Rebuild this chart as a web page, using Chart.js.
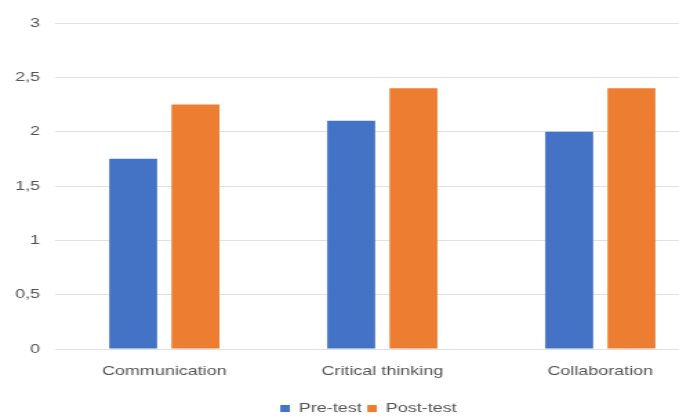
<!DOCTYPE html>
<html>
<head>
<meta charset="utf-8">
<script src="https://cdn.jsdelivr.net/npm/chart.js@4/dist/chart.umd.min.js"></script>
<style>
  html, body { margin: 0; padding: 0; background: #fff; overflow: hidden; }
  /* the reference image is stretched sideways, so the chart is drawn narrow and widened */
  #wrap { width: 520px; height: 417px; transform: scaleX(1.38); transform-origin: 0 0; }
</style>
</head>
<body>
<div id="wrap"><canvas id="chart" width="520" height="417"></canvas></div>
<script>
const categories = ["Communication", "Critical thinking", "Collaboration"];
const preTest = [1.75, 2.1, 2.0];
const postTest = [2.25, 2.4, 2.4];
const yTicks = [0, 0.5, 1, 1.5, 2, 2.5, 3];

const font = { family: "'Liberation Sans', Arial, sans-serif", size: 13 };
const textColor = "#555555";

//nudge the legend a little right and down, like in the picture
const legendNudge = {
  id: "legendNudge",
  afterLayout(chart) {
    const lg = chart.legend;
    lg.left += 10;
    lg.right += 10;
    lg.top += 8;
    lg.bottom += 8;
  },
};

let myChart = new Chart(document.getElementById("chart"), {
  type: "bar",
  plugins: [legendNudge],
  data: {
    labels: categories,
    datasets: [
      { label: "Pre-test", data: preTest, backgroundColor: "#4472C4" },
      { label: "Post-test", data: postTest, backgroundColor: "#ED7D31" },
    ],
  },
  options: {
    responsive: false,
    animation: false,
    categoryPercentage: 0.571,
    barPercentage: 0.77,
    layout: { padding: { top: 23, left: 0, right: 6, bottom: 0 } },
    plugins: {
      tooltip: { enabled: false },
      legend: {
        position: "bottom",
        labels: { boxWidth: 7, boxHeight: 7, padding: 4, color: textColor, font: font },
      },
    },
    scales: {
      x: {
        grid: { display: false },
        border: { display: false },
        ticks: { color: textColor, font: font, padding: 7 },
        afterFit: (scale) => { scale.height = 41; },
      },
      y: {
        min: 0,
        max: 3,
        afterBuildTicks: (scale) => { scale.ticks = yTicks.map((v) => ({ value: v })); },
        grid: { color: "#e2e2e2", drawTicks: false },
        border: { display: false },
        ticks: {
          color: textColor,
          font: font,
          padding: 11,
          callback: (v) => String(v).replace(".", ","),
        },
      },
    },
  },
});
</script>
</body>
</html>
